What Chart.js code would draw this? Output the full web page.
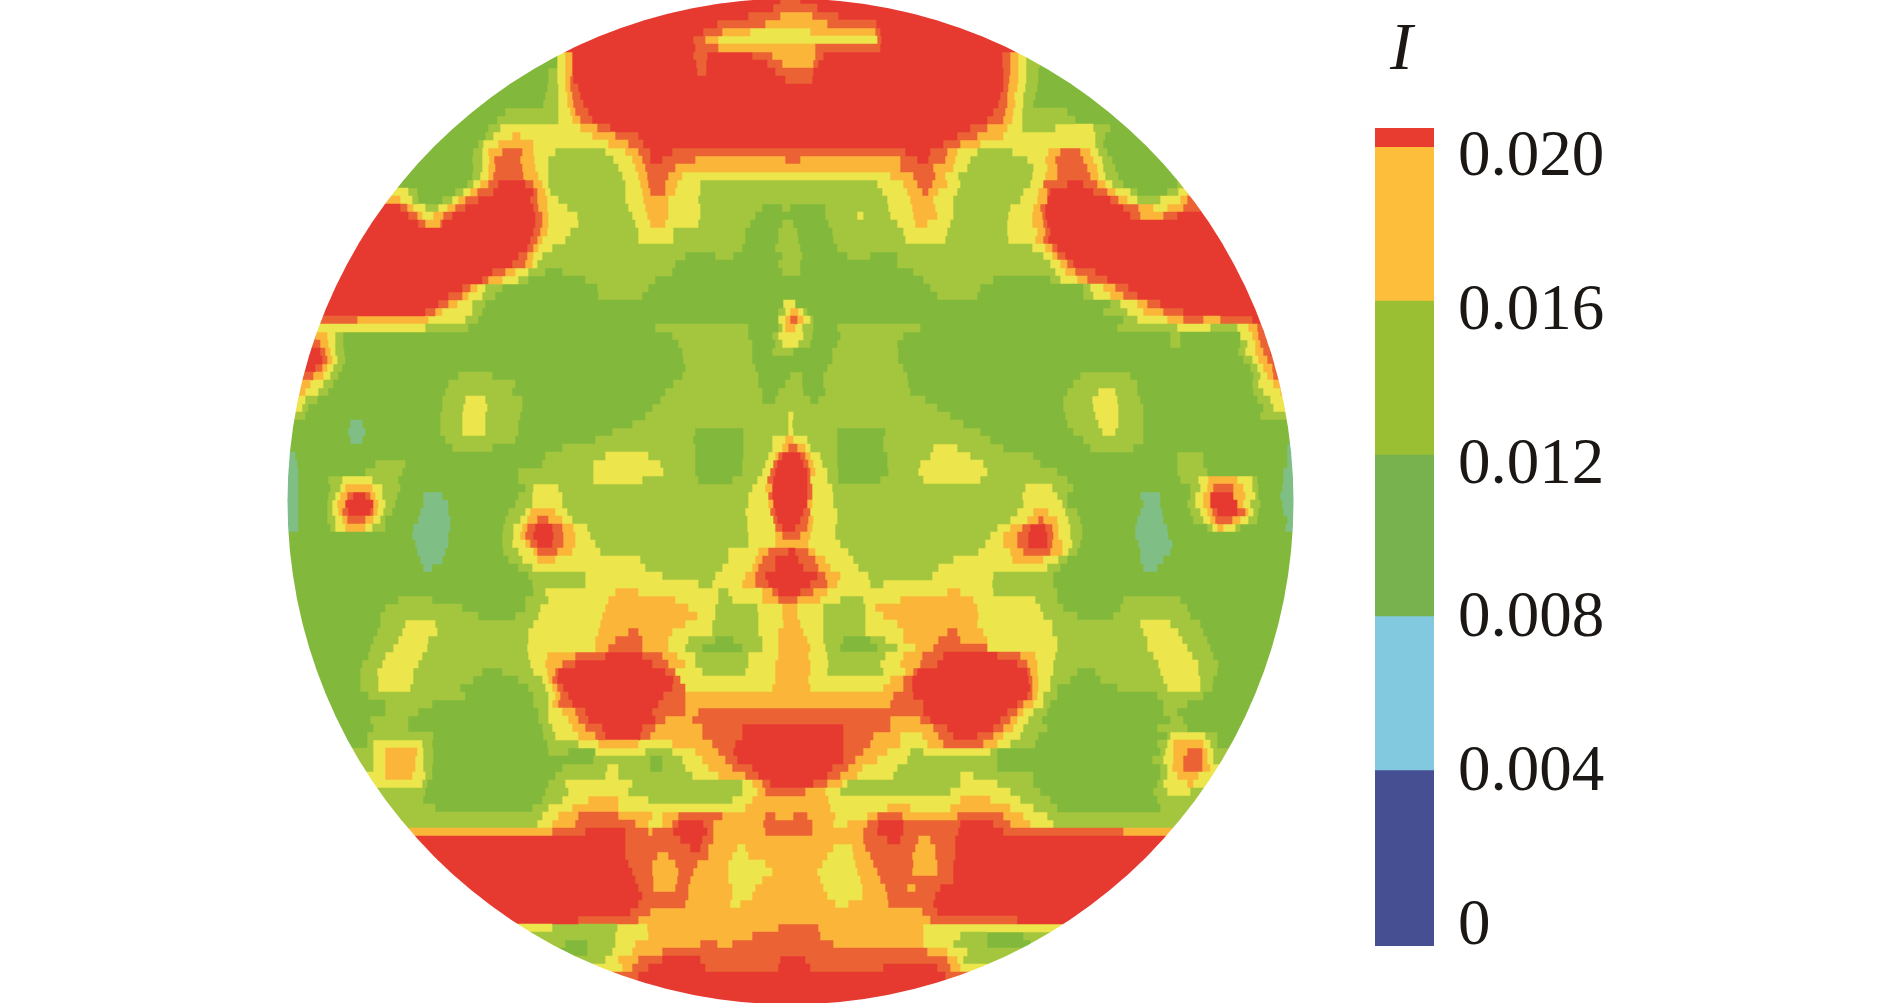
<!DOCTYPE html>
<html>
<head>
<meta charset="utf-8">
<title>I</title>
<script src="https://cdn.jsdelivr.net/npm/chart.js@4"></script>
<style>
    html, body { margin: 0; padding: 0; background: #fff; overflow: hidden; }
    #map { position: absolute; left: 285px; top: -4px; }
    #bar { position: absolute; left: 1340px; top: 0; }
    #symbol { position: absolute; left: 1390px; top: 6px; font: italic 68px 'Liberation Serif', serif; color: #1a1714; line-height: 80px; }
</style>
</head>
<body>
<canvas id="map" width="1010" height="1008"></canvas>
<canvas id="bar" width="400" height="1003"></canvas>
<div id="symbol">I</div>
<script>
// Colour bar
const tickValues = [0, 0.004, 0.008, 0.012, 0.016, 0.02];
const tickLabels = ['0', '0.004', '0.008', '0.012', '0.016', '0.020'];
const bandEdges = [-0.00049, 0.00407, 0.00807, 0.01227, 0.01627, 0.02027, 0.02077];
const bandColors = ['#454f92', '#82c8de', '#77b24f', '#9abf32', '#fdbf3b', '#e83c30'];

// Contour levels of the map
const levelColors = {
    r: '#e63a30', o: '#eb6334', a: '#fbb63a', y: '#ece54c',
    l: '#a4c63e', g: '#82b83b', t: '#7fbe84'
};

// One string per row of the map, top to bottom: level letter + x where that level starts
const rowRuns = [
    'r285 o780 r800',
    'r285 o773 r817',
    'r285 o748 a780 o812 r838',
    'r285 o717 a765 o827 r876',
    'r285 o703 a722 y750 a810 o875 r880',
    'r285 o693 a705 y718 o877 r881',
    'r285 o695 a718 o815 r880',
    'g285 y557 a565 r572 o693 r707 o752 a772 o815 r823 o1002 a1010 y1018 l1026 g1040',
    'g285 y557 a565 r572 o696 r706 o767 a782 o813 r818 o1002 a1010 y1018 l1026 g1040',
    'g285 l548 y557 a565 r572 o697 r706 o775 r813 o1003 a1010 y1018 l1026 g1038',
    'g285 l548 y557 a565 o570 r573 o785 r812 o1003 a1009 y1018 l1026 g1038',
    'g285 l547 y558 a565 o570 r578 o1003 a1008 y1017 l1025 g1037',
    'g285 l545 y558 a567 o572 r580 o1000 a1007 y1014 l1023 g1035',
    'g285 l543 y558 a567 o573 r583 o998 a1007 y1015 l1023 g1033',
    'g285 l505 y558 a570 o575 r588 o993 a1005 y1013 l1022 g1067',
    'g285 l497 y558 a572 o580 r592 o987 a1003 y1012 l1022 g1075',
    'g285 l488 y500 a580 o597 r610 o970 a987 y1007 l1022 y1055 l1093 g1110',
    'g285 l485 y493 a512 y520 a592 o615 r638 o957 a977 y1003 l1095 g1105',
    'g285 l478 y483 a498 y533 a608 o628 r643 o943 a960 y980 l1095 g1103',
    'g285 l473 y482 a488 o502 a522 y533 l555 y605 a625 o638 r650 o672 r905 o930 a947 y957 l977 y1012 a1048 o1060 a1080 y1090 l1098 g1107',
    'g285 l472 y482 a489 o494 a520 y534 l548 y613 a632 o642 r650 o662 a695 o785 a800 o900 r917 o928 a945 y955 l970 y1027 a1045 o1055 a1083 y1093 l1102 g1112',
    'g285 l473 y482 a488 o495 a522 y535 l548 y618 a635 o645 a675 o900 a933 y953 l967 y1033 a1047 o1057 a1087 y1097 l1103 g1115',
    'g285 l472 y480 a488 o493 a523 y538 l548 y622 a638 o647 a668 y682 a890 o913 a935 y945 l958 y1032 a1045 o1057 a1090 y1098 l1105 g1118',
    'g285 l467 y473 a480 o488 r498 o525 a533 y542 l548 y625 a640 o648 a665 y677 l700 y877 a903 o917 a932 y947 l960 y1030 o1043 r1067 o1083 a1097 y1105 l1112 g1123 l1177',
    'y285 l408 g417 l455 y463 a470 o477 r493 o533 a537 y545 l550 y625 a642 o650 a665 y675 l700 y882 a907 o922 a928 y938 l957 y1023 a1038 o1047 r1050 o1093 a1107 y1115 l1130 g1137 l1167 y1178 a1187',
    'a285 y400 l412 g418 l442 y452 a458 o465 r478 o530 a537 y547 l558 y625 a643 y668 l698 y887 a910 y933 l953 y1020 a1037 r1047 o1110 a1118 y1127 l1137 y1160 a1180 o1187',
    'r285 o400 a407 y413 l425 y438 a447 o455 r465 o533 a538 y547 l567 y628 a645 y668 l700 g762 l782 g790 l825 y888 a912 y935 l953 y1010 a1033 o1040 r1045 o1123 a1138 y1153 a1167 o1183 r1200',
    'r285 o408 a417 y422 a433 o443 r452 o535 a542 y548 l577 y632 a647 y668 l700 g755 l825 y857 l863 y890 a913 y937 l953 y1008 a1032 o1042 r1045 o1130 a1140 o1163 r1177',
    'r285 o418 a425 o440 r442 o535 a542 y548 l578 y635 a650 y665 l698 g750 l782 g793 l828 y897 a915 y927 l950 y1007 a1032 o1043 r1047',
    'r285 o533 a540 y547 l570 y638 l673 g745 l778 g797 l832 y903 l947 y1007 a1037 o1045 r1050',
    'r285 o530 a537 y542 l565 y638 l673 g745 l778 g798 l833 y905 l945 y1008 a1035 o1043 r1048',
    'r285 o527 a533 y538 l552 g742 l775 g800 l837 y1032 a1045 o1052 r1057',
    'r285 o518 a527 y533 l542 g685 l715 g733 l782 g802 l847 g870 l897 y1043 a1052 o1057 r1065',
    'r285 o512 a525 y532 l537 g675 l778 g800 l897 y1050 a1060 o1067 r1073',
    'r285 o492 a505 y515 l528 g545 l562 g672 l782 g800 l913 y1055 a1065 o1075 r1095',
    'r285 o482 a488 y502 l518 g528 l585 g655 l923 g993 l1050 y1060 a1077 o1087 r1107',
    'r285 o462 a470 y477 l485 g502 l597 g648 l930 g980 l1083 y1090 a1103 o1115 r1128',
    'r285 o448 a462 y468 l482 g495 l598 g642 l937 g977 l1083 y1093 a1110 o1123 r1137',
    'r285 o438 a448 y457 l472 g485 y783 g795 l1110 y1120 a1137 o1147 r1160',
    'r285 o425 a435 y442 l472 g482 l778 y785 a790 y798 l803 g807 l1103 y1127 a1143 o1163 r1183',
    'o285 a357 y428 l465 g478 y778 a785 o790 a797 y803 l810 g813 l1123 y1137 a1167 o1183 a1203 o1220 r1252',
    'y285 l425 g468 l655 g748 l778 y782 a785 y795 l802 g813 l837 g920 l1117 y1177 l1210 y1237 a1248 o1257 r1263',
    'o285 a315 y327 l335 g343 l672 g748 l772 y778 l803 g812 l840 g903 l1170 g1180 y1240 a1252 o1258 r1267',
    'r285 o312 a320 y328 l335 g343 l678 g752 l775 y782 l798 g810 l837 g897 l1170 g1180 l1240 y1247 a1255 o1260 r1270',
    'r285 o320 a325 y330 l335 g344 l682 g752 l772 g793 l832 g898 l1238 y1245 a1255 o1263 r1270',
    'r285 o322 a327 y332 l337 g345 l683 g752 l832 g898 l1243 y1252 a1258 o1267 r1273',
    'r285 o315 a322 y327 l333 g342 l685 g755 l827 g903 l1250 y1257 a1263 o1272 r1278',
    'o285 a313 y323 l330 g338 l458 g492 l682 g758 l790 g802 l823 g907 l1080 g1130 l1253 y1260 a1267 o1273',
    'a285 y310 l323 g333 l448 g515 l673 g758 l785 g802 l823 g908 l1073 g1137 l1252 y1258 a1273 o1280',
    'a285 y305 l318 g328 l445 g512 l665 g762 l778 g803 l825 g910 l1067 y1098 l1115 g1137 l1253 y1263 a1280',
    'y285 l305 g317 l442 y465 l485 g522 l660 g762 l775 g810 l818 g925 l1063 y1092 l1117 g1140 l1257 y1270',
    'y285 l302 g308 l442 y463 l487 g522 l652 g937 l1063 y1093 l1118 g1143 l1263 y1273',
    'l285 g305 l440 y462 l485 g520 l645 y788 l793 g950 l1065 y1095 l1118 g1143 l1260',
    'g285 t350 g362 l440 y462 l485 g518 l632 y788 l792 g963 l1067 y1098 l1118 g1143',
    'g285 t348 g365 l440 y462 l485 g518 l612 g695 l743 y788 l793 g837 l885 g980 l1073 y1102 l1115 g1143',
    'g285 t350 g362 l445 g515 l595 g693 l743 y772 a785 y793 l807 g837 l883 g990 l1083 g1143',
    'g285 l452 g492 l562 g695 l743 y772 a782 o788 a797 y805 l810 g837 l883 y933 l957 g1003 l1090 g1133 t1287',
    't285 g295 l545 y605 l648 g695 l743 y768 a775 o778 r782 o800 a805 y810 l820 g837 l887 y930 l970 g1033 l1177 g1203 t1287',
    't285 g297 l375 g405 l542 y593 l660 g695 l742 y765 o773 r777 o803 a808 y813 l822 g837 l887 y920 l983 g1040 l1177 g1203 t1287',
    't285 g298 l365 g402 l518 y593 l663 g695 l742 y762 o770 r775 o807 a810 y815 l827 g838 l888 y918 l987 g1057 l1177 g1207 t1283',
    't285 g298 l328 y342 l372 g398 l518 y593 l642 g698 l732 y757 o767 r773 o807 y810 l827 g838 l880 y923 l980 g1067 l1180 y1198 a1208 y1237 l1252 g1257 t1283',
    't285 g298 l330 y340 a345 y372 l382 g400 l525 y533 l558 y752 a765 r772 o807 y812 l832 y1025 l1052 g1073 l1190 y1200 a1207 o1213 a1233 y1243 l1252 g1258 t1282',
    't285 g298 l328 y335 a340 o347 r353 o365 a370 y375 l382 g397 t423 g442 l518 y532 l562 y748 o768 r772 o807 y812 l833 y1022 l1057 g1067 t1140 g1160 l1190 y1195 a1203 r1210 a1233 y1245 l1255 g1258 t1280',
    't285 g298 l327 y332 a337 r345 a373 y378 l385 g395 t423 g448 l515 y532 l562 y748 a768 r773 a807 y812 l833 y1023 l1062 g1067 t1143 g1160 l1187 y1195 a1203 r1210 a1237 y1243 l1250 g1260 t1282',
    't285 g298 l327 y332 a338 o342 r348 o370 a373 y377 l383 g392 t420 g448 l508 y525 a530 y555 l567 y745 o770 r775 o803 y810 l837 y1017 a1033 y1048 l1065 g1077 t1140 g1162 l1190 y1200 a1207 o1212 r1217 o1237 a1245 y1248 l1253 g1258 t1283',
    't285 g298 l327 y335 a342 o347 a365 y373 l380 g385 t418 g450 l505 y520 a527 o537 a548 y562 l572 y747 o773 r777 o800 a808 y813 l837 y1010 a1027 o1038 a1043 y1057 l1068 g1080 t1137 g1163 l1193 y1203 a1210 o1215 a1232 y1240 l1248 g1257 t1287',
    't285 g298 l330 y335 a345 y365 l372 g385 t413 g450 l503 y513 a522 o527 r535 o552 a562 y573 l587 y747 o775 r782 o795 a807 y812 l835 y997 a1010 o1022 r1030 o1045 a1052 y1058 l1070 g1082 t1135 g1167 l1207 y1212 a1217 y1223 l1235 g1240 t1285',
    'g285 t412 g448 l502 y513 a520 o525 r533 o553 a563 y575 l590 y748 a775 o782 a800 y810 l835 y990 a1003 o1017 r1028 o1047 a1053 y1058 l1070 g1082 t1135 g1168',
    'g285 t415 g448 l502 y512 a525 o530 r537 o552 a563 y575 l595 y748 a775 y808 l840 y985 a1003 o1017 r1028 o1047 a1052 y1062 l1072 g1080 t1138 g1172',
    'g285 t417 g445 l503 y518 a533 o537 a557 y572 l600 y728 a758 o768 r788 o795 a808 y815 l848 y978 a1010 o1023 a1050 y1062 l1068 g1077 t1140 g1170',
    'g285 t420 g442 l508 y522 a537 y555 l640 y728 a755 o762 r775 o798 a815 y825 l853 y953 a1012 y1043 l1058 g1067 t1140 g1163',
    'g285 t423 g432 l518 y532 l645 y722 a752 o758 r775 o803 a818 y830 l858 y938 l1047 g1060 t1143 g1157',
    'g285 l528 y585 l662 y715 a745 o755 r765 o817 a825 y840 l868 y932 l993 g1053',
    'g285 l532 y585 l698 y712 a742 o755 r768 o810 a827 y837 l870 y883 l992 g1053',
    'g285 l533 y545 a615 y638 l718 y728 a762 o772 r778 o800 a813 y827 a947 y960 l993 g1057',
    'g285 l398 g432 l525 y548 a608 y675 l718 y732 a762 o778 a797 y820 l840 y863 a900 y973 l1035 g1057 l1123 g1180',
    'g285 l385 g462 l525 y540 a605 y688 l715 y757 a782 y797 l823 y865 a875 y977 l1040 g1063 l1120 g1187',
    'g285 l380 g478 l515 y538 a602 y697 l715 y758 a782 y797 l823 y865 a883 y978 l1043 g1077 l1113 g1190',
    'g285 l380 y405 l435 y533 a600 y685 l712 y758 a783 y800 l823 y865 a897 y977 l1052 y1140 l1170 g1200',
    'g285 l377 y402 l437 y528 a598 o628 a638 y672 l712 y758 a778 y803 l823 y865 a903 o947 a957 y983 l1052 y1143 l1178 g1203',
    'g285 l373 y398 l428 y528 a595 o615 a642 y668 l688 g715 l733 y762 a778 y807 l823 g843 l870 y885 a903 o938 a960 y987 l1057 y1147 l1182 g1207',
    'g285 l370 y393 l427 y527 a595 o608 a642 y668 l685 g702 l742 y762 a778 y810 l825 g840 l877 y897 a915 o933 y987 l1057 y1147 l1187 g1210',
    'g285 l368 y385 l422 y528 a547 o575 r605 o642 a662 y677 l695 y748 a778 y808 l827 y885 a903 o922 r943 o997 a1020 y1035 l1055 y1153 l1192 g1213',
    'g285 l362 y382 l418 y530 a545 o562 r575 o652 a668 y685 l695 y748 a775 y810 l828 y880 a900 o920 r937 o1017 a1027 y1037 l1053 y1158 l1198 g1218',
    'g285 l360 y377 l413 g482 l502 y533 a547 o555 r558 o665 y675 l702 y745 a775 y810 l827 y883 a905 o913 r917 o1027 a1030 y1037 l1053 g1077 l1095 y1160 l1198 g1217',
    'g285 l360 y378 l413 g473 l518 y542 a548 o552 r557 o673 y680 a775 y808 a890 o903 r912 o1028 a1032 y1038 l1050 g1070 l1100 y1163 l1200 g1213',
    'g285 l360 y378 l410 g460 l528 y545 a552 o557 r563 o672 y685 a772 y810 a883 o903 r912 o1030 a1032 y1038 l1050 g1057 l1117 y1167 l1200 g1212',
    'g285 l368 g465 l533 y548 a555 o560 r568 o663 a685 o893 r913 o1027 a1032 y1037 l1043 g1057 l1157 g1203',
    'g285 l385 g432 l533 y548 a552 o558 r572 o658 a685 o890 r923 o1017 a1023 y1033 l1043 g1050 l1163 g1187',
    'g285 l385 g418 l538 y548 a562 o575 r585 o652 a685 o698 r923 o1007 a1017 y1023 l1033 g1047 l1163 g1177',
    'g285 l370 g408 l538 y548 a568 o578 r588 o655 a665 o692 a890 o920 r930 o1000 a1010 y1017 l1028 g1042 l1170 g1183',
    'g285 l373 g408 l542 y552 a572 o585 r602 o642 a655 o702 r742 o843 a890 o933 r947 o993 a1003 y1013 l1023 g1047 l1157 g1187',
    'g285 l367 g433 l543 y555 a578 o595 r605 o640 a650 o702 r742 o843 a873 y900 a922 o938 r953 o977 a993 y1003 l1020 g1038 l1167 y1170 l1205 g1217',
    'g285 l367 y373 l422 g432 l547 y578 a598 y638 a672 o712 r735 o843 a870 y900 a927 o943 a983 y997 l1010 g1035 l1157 y1167 a1173 y1203 l1210 g1217',
    'l285 y373 a385 y417 l423 g433 l548 g568 y595 l645 y672 a695 o718 r733 o843 a863 y887 l910 y923 l990 g997 l1160 y1165 a1173 o1187 a1202 y1207 l1213',
    'l285 y373 a385 y415 l423 g433 l593 g650 l662 y682 a702 o725 r737 o843 a855 y877 l907 g997 l1152 y1163 a1173 o1183 a1202 y1207 l1213',
    'l285 y373 a385 y415 l423 g432 l562 y607 l618 g650 l662 y685 a708 o732 r752 o832 a848 y862 l897 g997 l1160 y1167 a1172 o1183 a1202 y1210',
    'y285 a385 y412 l425 g432 l555 y605 l618 y692 a718 o745 r758 o827 a840 y857 l893 y960 l973 g1033 l1160 y1167 a1177 y1198',
    'y285 l422 g427 l548 y565 l632 y742 a752 o762 r770 o813 a827 y842 l847 y960 l997 g1033 l1157 y1163 a1187 y1193',
    'l285 g425 l545 y568 l628 y742 a757 o765 a805 y825 l840 y950 l1010 g1040 l1153 y1167 l1190',
    'l285 g423 l542 y562 a588 y618 l648 y732 a752 y828 a960 y990 l1020 g1050 l1157',
    'l285 g435 l532 y548 a572 y618 a745 y830 a887 y910 a950 y1010 l1033 g1057 l1160',
    'l285 y542 a558 o578 a618 y652 a662 o678 a722 o765 a775 o793 a807 y835 a867 o877 a902 o957 a1003 y1023 l1047',
    'l285 y537 a552 o575 a635 y648 a662 o672 r678 o703 a713 o763 a812 y833 a847 o867 r878 o903 r960 o993 a1010 y1030 l1053',
    'a285 o552 r585 o625 a648 o652 r673 o707 a713 o765 a812 o863 r877 o903 r958 o1003 a1123',
    'r285 o625 r680 o702 a713 o863 r887 o900 a918 o930 r955',
    'r285 o625 r690 o700 a708 y737 a745 y833 a852 o865 a915 o935 r955',
    'r285 o625 a657 o668 a708 y732 a748 y827 a853 o870 a912 o935 r955',
    'r285 o628 a652 o675 a697 y728 a765 y822 a855 o873 a913 o937 r953',
    'r285 o632 a652 o678 a693 y728 a772 y817 a857 o877 a912 o937 r953',
    'r285 o635 a653 o677 a690 y728 a762 y820 a860 o880 r953',
    'r285 o638 a653 o675 a688 y732 a755 y823 a862 o885 a907 o915 r940',
    'r285 o642 a688 y732 a752 y827 a862 o887 r935',
    'r285 o638 a685 y730 a740 y835 a848 o888 r933',
    'r285 o630 a650 o922 r937',
    'r285 o578 a638 o930 r1017',
    'y285 l552 y617 a647 o778 a818 y923',
    'l285 y615 a648 o752 a820 y923 l960 g987 l1023',
    'l285 g565 l587 y615 a635 o700 a717 o732 a833 y923 l953 g987 l1030',
    'g285 l587 y612 a632 o662 a927 y947 l967',
    'l285 y605 a618 o638 r662 o700 r780 o805 a947 y957 l963',
    'y285 a622 o632 r648 o705 r778 o810 r883 o937 a950 y960',
    'o285 r638 o945',
    'r285',
    'r285',
    'r285'
];

const xMin = 285;
const xMax = 1295;
const discCenter = 790.5;
const discRadius = 503;
const discCenterRow = 62.69;

document.addEventListener('DOMContentLoaded', function() {

    // Turn the row strings into floating bars, one dataset per run position
    const parsedRows = rowRuns.map(row => row.split(' ').map(t => ({ level: t[0], start: Number(t.slice(1)) })));
    const maxRuns = Math.max(...parsedRows.map(r => r.length));
    const mapDatasets = [];
    for (let i = 0; i < maxRuns; i++) {
        mapDatasets.push({
            data: parsedRows.map(r => {
                if (!r[i]) return null;
                return [r[i].start, r[i + 1] ? r[i + 1].start : xMax];
            }),
            backgroundColor: parsedRows.map(r => r[i] ? levelColors[r[i].level] : 'transparent'),
            borderWidth: 0,
            barPercentage: 1,
            categoryPercentage: 1,
            grouped: false
        });
    }

    // Only the disc is painted
    const discClip = {
        id: 'discClip',
        beforeDatasetsDraw(chart) {
            const x = chart.scales.x;
            const cx = x.getPixelForValue(discCenter);
            const radius = x.getPixelForValue(discCenter + discRadius) - cx;
            const ctx = chart.ctx;
            ctx.save();
            ctx.beginPath();
            ctx.arc(cx, chart.scales.y.getPixelForValue(discCenterRow), radius, 0, Math.PI * 2);
            ctx.clip();
        },
        afterDatasetsDraw(chart) {
            chart.ctx.restore();
        }
    };

    new Chart(document.getElementById('map'), {
        type: 'bar',
        data: { labels: rowRuns.map((r, i) => i), datasets: mapDatasets },
        plugins: [discClip],
        options: {
            indexAxis: 'y',
            responsive: false,
            animation: false,
            layout: { padding: 0 },
            plugins: { legend: { display: false }, tooltip: { enabled: false } },
            scales: {
                x: { type: 'linear', min: xMin, max: xMax, display: false },
                y: { display: false }
            }
        }
    });

    new Chart(document.getElementById('bar'), {
        type: 'bar',
        data: {
            labels: ['I'],
            datasets: bandColors.map((c, i) => ({
                data: [[bandEdges[i], bandEdges[i + 1]]],
                backgroundColor: c,
                borderWidth: 0,
                barPercentage: 1,
                categoryPercentage: 1,
                grouped: false
            }))
        },
        options: {
            responsive: false,
            animation: false,
            layout: { padding: { left: 35, top: 128, bottom: 57 } },
            plugins: { legend: { display: false }, tooltip: { enabled: false } },
            scales: {
                x: { display: false },
                y: {
                    position: 'right',
                    min: bandEdges[0],
                    max: bandEdges[bandEdges.length - 1],
                    afterBuildTicks(axis) { axis.ticks = tickValues.map(v => ({ value: v })); },
                    afterFit(axis) { axis.width = 306; },
                    grid: { display: false },
                    border: { display: false },
                    ticks: {
                        padding: 16,
                        color: '#1a1714',
                        font: { family: "'Liberation Serif', serif", size: 65 },
                        callback: (v) => tickLabels[tickValues.indexOf(v)]
                    }
                }
            }
        }
    });
});
</script>
</body>
</html>
